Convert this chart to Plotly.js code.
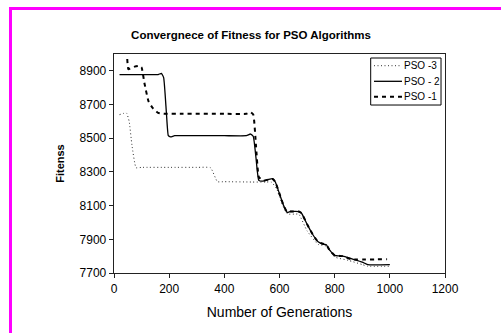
<!DOCTYPE html>
<html>
<head>
<meta charset="utf-8">
<script src="https://cdn.plot.ly/plotly-3.0.1.min.js"></script>
<style>
  html, body { margin: 0; padding: 0; background: #fff; }
  #wrap { position: relative; width: 501px; height: 333px; overflow: hidden; }
  #chart { position: absolute; left: 0; top: 0; width: 501px; height: 333px; }
  #frame { position: absolute; left: 9px; top: 7px; width: 600px; height: 400px;
           border-left: 3px solid #ff00ff; border-top: 3px solid #ff00ff; pointer-events: none; }
</style>
</head>
<body>
<div id="wrap"><div id="chart"></div><div id="frame"></div></div>
<script>
// PSO -3 (dotted)
const pso3X = [20, 45, 55, 65, 80, 100, 200, 300, 350, 375, 400, 500, 550, 570, 590, 600, 620, 630, 660, 670, 700, 740, 770, 800, 850, 900, 920, 1000];
const pso3Y = [8640, 8650, 8600, 8460, 8325, 8327, 8327, 8327, 8325, 8242, 8242, 8240, 8240, 8240, 8200, 8150, 8070, 8050, 8050, 8050, 7950, 7870, 7860, 7795, 7775, 7750, 7740, 7740];

// PSO - 2 (solid)
const pso2X = [20, 100, 160, 172, 180, 190, 197, 205, 220, 300, 400, 480, 495, 505, 515, 525, 540, 560, 575, 585, 600, 615, 628, 640, 670, 680, 700, 720, 740, 760, 770, 780, 800, 830, 860, 900, 920, 1000];
const pso2Y = [8878, 8878, 8878, 8885, 8860, 8650, 8515, 8508, 8515, 8515, 8515, 8515, 8525, 8510, 8380, 8250, 8245, 8255, 8260, 8240, 8170, 8100, 8060, 8065, 8065, 8055, 7990, 7930, 7885, 7870, 7868, 7840, 7805, 7800, 7785, 7765, 7750, 7750];

// PSO -1 (dashed)
const pso1X = [48, 52, 60, 75, 90, 100, 110, 125, 140, 160, 180, 250, 400, 480, 495, 505, 515, 525, 540, 560, 575, 585, 600, 615, 628, 640, 670, 680, 700, 720, 740, 760, 770, 780, 800, 830, 860, 990];
const pso1Y = [8970, 8910, 8915, 8925, 8930, 8920, 8830, 8720, 8680, 8650, 8645, 8645, 8645, 8645, 8655, 8640, 8450, 8270, 8248, 8255, 8258, 8240, 8170, 8100, 8062, 8065, 8065, 8055, 7990, 7930, 7885, 7872, 7868, 7840, 7805, 7800, 7782, 7782];

const seriesNames = ['PSO -3', 'PSO - 2', 'PSO -1'];
const xTicks = [0, 200, 400, 600, 800, 1000, 1200];
const yTicks = [7700, 7900, 8100, 8300, 8500, 8700, 8900];

const FONT = 'Liberation Sans, Arial, sans-serif';
const lineStyles = [
  { color: '#333', width: 1, dash: '1px,2.5px' },
  { color: '#000', width: 1.3, dash: 'solid' },
  { color: '#000', width: 2, dash: '4px,4px' }
];
const seriesX = [pso3X, pso2X, pso1X];
const seriesY = [pso3Y, pso2Y, pso1Y];

const traces = seriesNames.map((n, i) => ({
  x: seriesX[i], y: seriesY[i], name: n, mode: 'lines', showlegend: false,
  line: Object.assign({ shape: 'spline', smoothing: 0.4 }, lineStyles[i])
}));

// legend (drawn manually, in paper coordinates)
const legX0 = 0.7755, legX1 = 0.988, legY0 = 0.767, legY1 = 0.9817;
const rowY = [0.9466, 0.8753, 0.805];
const shapes = [{ type: 'rect', xref: 'paper', yref: 'paper', x0: legX0, x1: legX1, y0: legY0, y1: legY1,
                  line: { color: '#000', width: 1 }, fillcolor: '#fff', layer: 'above' }];
const annotations = [];
seriesNames.forEach((n, i) => {
  shapes.push({ type: 'line', xref: 'paper', yref: 'paper', x0: 0.7855, x1: 0.870, y0: rowY[i], y1: rowY[i],
                line: lineStyles[i], layer: 'above' });
  annotations.push({ xref: 'paper', yref: 'paper', x: 0.871, y: rowY[i], xanchor: 'left', yanchor: 'middle',
                     text: n, showarrow: false, font: { family: FONT, size: 10, color: '#000' } });
});

const axFont = { family: FONT, size: 12, color: '#000' };

const layout = {
  width: 501, height: 333,
  margin: { l: 114, r: 56, t: 54, b: 60, pad: 0 },
  paper_bgcolor: 'rgba(0,0,0,0)', plot_bgcolor: '#fff',
  showlegend: false,
  shapes: shapes, annotations: annotations,
  title: { text: 'Convergnece of Fitness for PSO Algorithms',
           font: { family: FONT, size: 11.5, color: '#000', weight: 'bold' },
           x: 251 / 501, xref: 'container', xanchor: 'center', y: 298 / 333, yanchor: 'middle' },
  xaxis: { range: [0, 1200], tickvals: xTicks, ticktext: xTicks.map(String),
           showgrid: false, zeroline: false, showline: true, linecolor: '#222', linewidth: 1.3, mirror: true,
           ticks: 'outside', ticklen: 4, tickcolor: '#222', tickfont: axFont,
           title: { text: 'Number of Generations', font: { family: FONT, size: 14, color: '#000' }, standoff: 12 } },
  yaxis: { range: [7700, 9000], tickvals: yTicks, ticktext: yTicks.map(String),
           showgrid: false, zeroline: false, showline: true, linecolor: '#222', linewidth: 1.3, mirror: true,
           ticks: 'outside', ticklen: 4, tickcolor: '#222', tickfont: axFont,
           title: { text: 'Fitenss', font: { family: FONT, size: 11, color: '#000', weight: 'bold' }, standoff: 12 } }
};

Plotly.newPlot('chart', traces, layout, { displayModeBar: false, staticPlot: true });
</script>
</body>
</html>
